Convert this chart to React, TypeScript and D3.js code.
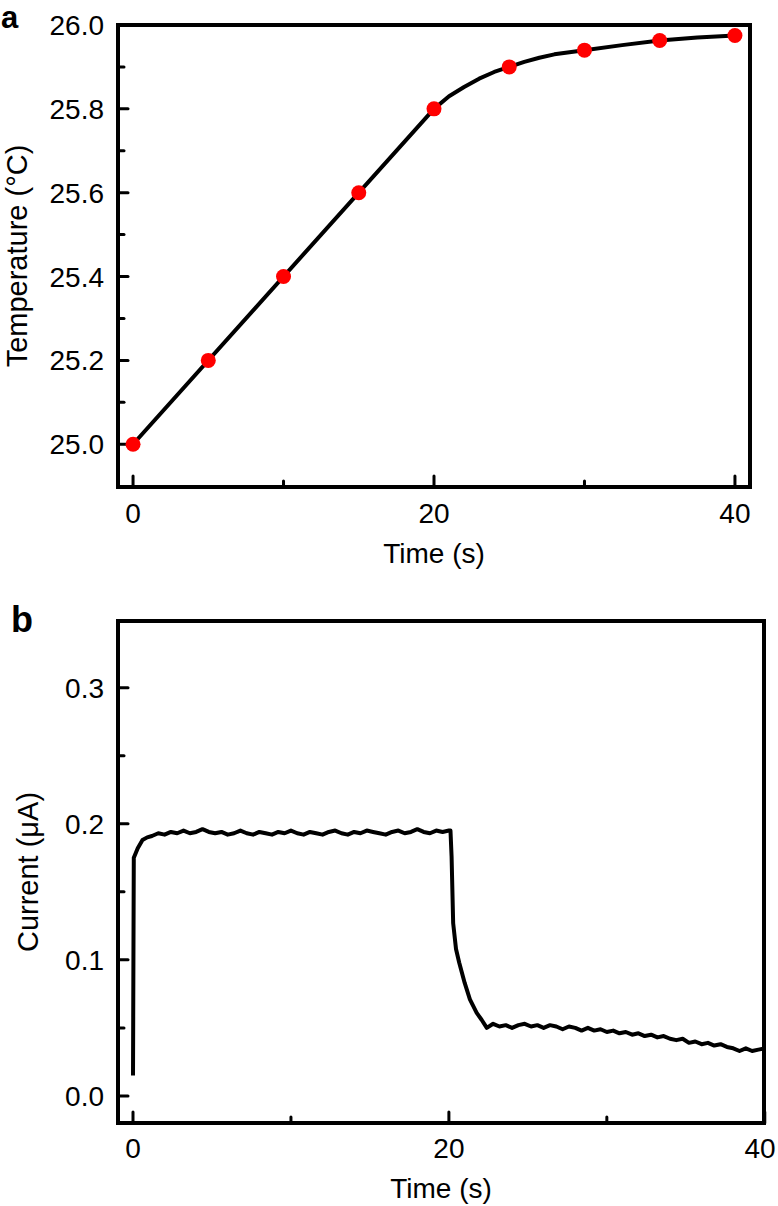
import React from "react";
import * as d3 from "d3";

// ---- Panel a: temperature ----
const tempTimes = [0, 5, 10, 15, 20, 25, 30, 35, 40];
const tempValues = [25.0, 25.2, 25.4, 25.6, 25.8, 25.9, 25.94, 25.963, 25.975];
// the guide line drawn through the points
const tempLineTimes = [0, 20, 21, 22, 23, 24, 25, 26, 27, 28, 30, 32.5, 35, 37.5, 40];
const tempLineValues = [
  25.0, 25.8, 25.83, 25.852, 25.872, 25.888, 25.9, 25.912, 25.922, 25.93, 25.94,
  25.952, 25.963, 25.97, 25.975,
];
const tempYMajor = [25.0, 25.2, 25.4, 25.6, 25.8, 26.0];
const tempYMinor = [25.1, 25.3, 25.5, 25.7, 25.9];
const xMajor = [0, 20, 40];
const xMinor = [10, 30];

// ---- Panel b: current ----
const riseTimes = [0.0, 0.05, 0.3, 0.6, 0.9];
const riseValues = [0.015, 0.175, 0.182, 0.188, 0.19];
const flatStart = 1.2;
const sampleStep = 0.4;
const flatValues = [
  0.191, 0.193, 0.192, 0.194, 0.193, 0.195, 0.193, 0.194, 0.196, 0.194,
  0.193, 0.194, 0.192, 0.193, 0.195, 0.193, 0.192, 0.194, 0.193, 0.192,
  0.194, 0.193, 0.195, 0.193, 0.192, 0.194, 0.193, 0.192, 0.194, 0.195,
  0.193, 0.192, 0.194, 0.193, 0.195, 0.194, 0.193, 0.192, 0.194, 0.195,
  0.193, 0.194, 0.196, 0.194, 0.193, 0.195, 0.194, 0.195,
];
const dropTimes = [20.1, 20.17, 20.27, 20.45, 20.65, 21.0, 21.33, 21.76, 22.07];
const dropValues = [0.195, 0.176, 0.127, 0.108, 0.098, 0.083, 0.071, 0.061, 0.056];
const tailStart = 22.4;
const tailValues = [
  0.05, 0.053, 0.051, 0.052, 0.05, 0.052, 0.053, 0.051, 0.052, 0.05,
  0.052, 0.051, 0.049, 0.051, 0.05, 0.048, 0.05, 0.048, 0.049, 0.047,
  0.048, 0.046, 0.047, 0.045, 0.046, 0.044, 0.045, 0.043, 0.044, 0.042,
  0.041, 0.042, 0.039, 0.04, 0.038, 0.039, 0.037, 0.038, 0.036, 0.035,
  0.033, 0.035, 0.033, 0.034, 0.035,
];
const curYMajor = [0.0, 0.1, 0.2, 0.3];
const curYMinor = [0.05, 0.15, 0.25];

const FONT = "'Liberation Sans', Arial, Helvetica, sans-serif";

export default function App() {
  const W = 778;
  const a = { l: 118, r: 750, t: 25, b: 487 };
  const xa = d3.scaleLinear().domain([-1, 41]).range([a.l, a.r]);
  const ya = d3.scaleLinear().domain([24.898, 26.0]).range([a.b, a.t]);

  const b = { l: 118, r: 764, t: 621, b: 1123 };
  const xb = d3.scaleLinear().domain([-0.95, 39.95]).range([b.l, b.r]);
  const yb = d3.scaleLinear().domain([-0.0199, 0.349]).range([b.b, b.t]);

  const tempLine = d3
    .line<number>()
    .x((d, i) => xa(tempLineTimes[i]))
    .y((d) => ya(d))
    .curve(d3.curveLinear)(tempLineValues);

  const curPts: [number, number][] = [];
  riseTimes.forEach((t, i) => curPts.push([t, riseValues[i]]));
  flatValues.forEach((v, i) => curPts.push([flatStart + i * sampleStep, v]));
  dropTimes.forEach((t, i) => curPts.push([t, dropValues[i]]));
  tailValues.forEach((v, i) => curPts.push([tailStart + i * sampleStep, v]));
  const curLine = d3
    .line<[number, number]>()
    .x((d) => xb(d[0]))
    .y((d) => yb(d[1]))(curPts);

  const fs = 28;
  const yfs = 29;
  const tickStroke = 3;

  const frame = (p: { l: number; r: number; t: number; b: number }) => (
    <rect x={p.l} y={p.t} width={p.r - p.l} height={p.b - p.t} fill="none" stroke="#000" strokeWidth={4} />
  );

  return (
    <svg
      width={W}
      height={1206}
      style={{ position: "absolute", left: 0, top: 0, background: "#fff" }}
      fontFamily={FONT}
    >
      <rect x={0} y={0} width={W} height={1206} fill="#fff" />

      {/* ---------- Panel a ---------- */}
      <text x={1} y={28} fontSize={31} fontWeight="bold">a</text>
      {tempYMajor.map((v) => (
        <g key={"ay" + v}>
          <line x1={a.l} x2={a.l + 10} y1={ya(v)} y2={ya(v)} stroke="#000" strokeWidth={tickStroke} strokeLinecap="round" />
          <text x={104} y={ya(v)} dy="0.36em" textAnchor="end" fontSize={fs}>
            {v.toFixed(1)}
          </text>
        </g>
      ))}
      {tempYMinor.map((v) => (
        <line key={"aym" + v} x1={a.l} x2={a.l + 6} y1={ya(v)} y2={ya(v)} stroke="#000" strokeWidth={tickStroke} strokeLinecap="round" />
      ))}
      {xMajor.map((v) => (
        <g key={"ax" + v}>
          <line x1={xa(v)} x2={xa(v)} y1={a.b} y2={a.b - 11} stroke="#000" strokeWidth={tickStroke} strokeLinecap="round" />
          <text x={xa(v)} y={523} textAnchor="middle" fontSize={fs}>
            {v}
          </text>
        </g>
      ))}
      {xMinor.map((v) => (
        <line key={"axm" + v} x1={xa(v)} x2={xa(v)} y1={a.b} y2={a.b - 6} stroke="#000" strokeWidth={tickStroke} strokeLinecap="round" />
      ))}
      <path d={tempLine || ""} fill="none" stroke="#000" strokeWidth={4} strokeLinejoin="round" />
      {tempValues.map((v, i) => (
        <circle key={"pt" + i} cx={xa(tempTimes[i])} cy={ya(v)} r={7.5} fill="#ff0000" />
      ))}
      {frame(a)}
      <text x={(a.l + a.r) / 2} y={563} textAnchor="middle" fontSize={fs}>
        Time (s)
      </text>
      <text transform={`translate(27,${(a.t + a.b) / 2}) rotate(-90)`} textAnchor="middle" fontSize={yfs}>
        Temperature (°C)
      </text>

      {/* ---------- Panel b ---------- */}
      <text x={11} y={632} fontSize={36} fontWeight="bold">b</text>
      {curYMajor.map((v) => (
        <g key={"by" + v}>
          <line x1={b.l} x2={b.l + 10} y1={yb(v)} y2={yb(v)} stroke="#000" strokeWidth={tickStroke} strokeLinecap="round" />
          <text x={104} y={yb(v)} dy="0.36em" textAnchor="end" fontSize={fs}>
            {v.toFixed(1)}
          </text>
        </g>
      ))}
      {curYMinor.map((v) => (
        <line key={"bym" + v} x1={b.l} x2={b.l + 6} y1={yb(v)} y2={yb(v)} stroke="#000" strokeWidth={tickStroke} strokeLinecap="round" />
      ))}
      {xMajor.map((v) => (
        <g key={"bx" + v}>
          <line x1={xb(v)} x2={xb(v)} y1={b.b} y2={b.b - 11} stroke="#000" strokeWidth={tickStroke} strokeLinecap="round" />
          <text x={Math.min(xb(v), W - 18)} y={1158} textAnchor="middle" fontSize={fs}>
            {v}
          </text>
        </g>
      ))}
      {xMinor.map((v) => (
        <line key={"bxm" + v} x1={xb(v)} x2={xb(v)} y1={b.b} y2={b.b - 6} stroke="#000" strokeWidth={tickStroke} strokeLinecap="round" />
      ))}
      <path d={curLine || ""} fill="none" stroke="#000" strokeWidth={4} strokeLinejoin="round" />
      {frame(b)}
      <text x={(b.l + b.r) / 2} y={1198} textAnchor="middle" fontSize={fs}>
        Time (s)
      </text>
      <text transform={`translate(38,${(b.t + b.b) / 2}) rotate(-90)`} textAnchor="middle" fontSize={yfs}>
        Current (μA)
      </text>
    </svg>
  );
}
